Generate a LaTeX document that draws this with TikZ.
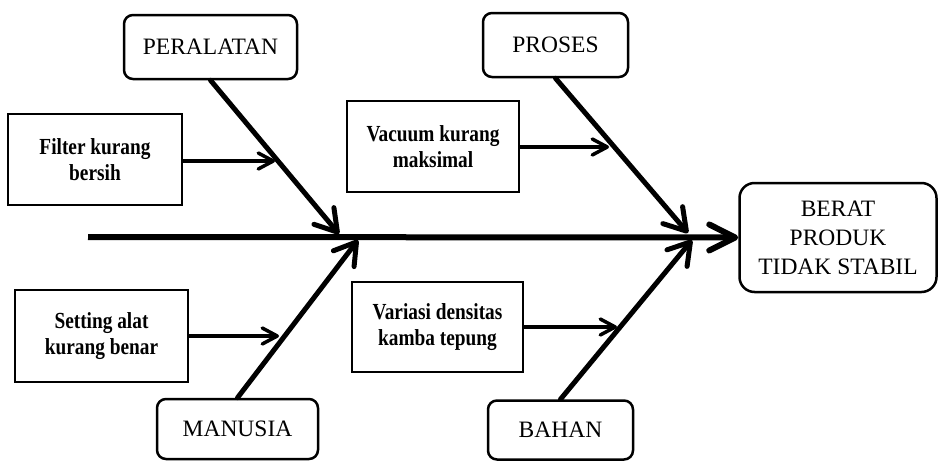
\documentclass[tikz,border=0pt]{standalone}
\usepackage{fontspec}
\setmainfont{Liberation Serif}
\newfontfamily\condfont[FakeStretch=0.84]{Liberation Serif}
\usetikzlibrary{arrows.meta}
\tikzset{
  catbox/.style={draw, line width=2.5pt, rounded corners=9pt, inner sep=0pt,
    font=\fontsize{23.5}{29}\selectfont, align=center},
  causebox/.style={draw, line width=2pt, inner sep=0pt,
    font=\condfont\bfseries\fontsize{23}{25.5}\selectfont, align=center},
  spine/.style={line width=6pt, -{Straight Barb[length=26pt,width=26pt,round]}},
  bone/.style={line width=5pt, line cap=round, -{Straight Barb[length=21pt,width=26pt,round]}},
  twig/.style={line width=3.5pt, -{Straight Barb[length=15pt,width=16pt,round]}}
}
\begin{document}
\begin{tikzpicture}[x=1pt,y=-1pt]
\useasboundingbox (0,0) rectangle (939,461);
% category boxes
\node[catbox, minimum width=173pt, minimum height=64pt] (peralatan) at (210.5,47) {PERALATAN};
\node[catbox, minimum width=145pt, minimum height=64pt] (proses) at (555.5,45) {PROSES};
\node[catbox, minimum width=161pt, minimum height=60pt] (manusia) at (237.5,429) {MANUSIA};
\node[catbox, minimum width=145pt, minimum height=59pt] (bahan) at (560.5,430) {BAHAN};
\node[catbox, rounded corners=15pt, minimum width=197pt, minimum height=109pt] (berat) at (838,237.5) {BERAT\\PRODUK\\TIDAK STABIL};
% cause boxes
\node[causebox, minimum width=174pt, minimum height=91pt] (filter) at (95,159.5) {Filter kurang\\bersih};
\node[causebox, minimum width=172pt, minimum height=91pt] (vacuum) at (433,146.5) {Vacuum kurang\\maksimal};
\node[causebox, minimum width=173pt, minimum height=92pt] (setting) at (101.5,336) {Setting alat\\kurang benar};
\node[causebox, minimum width=171pt, minimum height=90pt] (variasi) at (437.5,327) {Variasi densitas\\kamba tepung};
% spine
\coordinate (tail) at (88,237);
\draw[spine] (tail) -- (berat.west);
% bone tips
\coordinate (ptip) at (339,234);
\coordinate (mtip) at (358,240);
\coordinate (prtip) at (688,233);
\coordinate (btip) at (692,240);
\draw[bone] (peralatan.south) -- (ptip);
\draw[bone] (proses.south) -- (prtip);
\draw[bone] (manusia.north) -- (mtip);
\draw[bone] (bahan.north) -- (btip);
% twigs
\coordinate (ftip) at (275,161);
\coordinate (vtip) at (609,147);
\coordinate (stip) at (279,336);
\coordinate (vatip) at (617,327);
\draw[twig] (filter.east |- ftip) -- (ftip);
\draw[twig] (vacuum.east |- vtip) -- (vtip);
\draw[twig] (setting.east |- stip) -- (stip);
\draw[twig] (variasi.east |- vatip) -- (vatip);
\end{tikzpicture}
\end{document}
